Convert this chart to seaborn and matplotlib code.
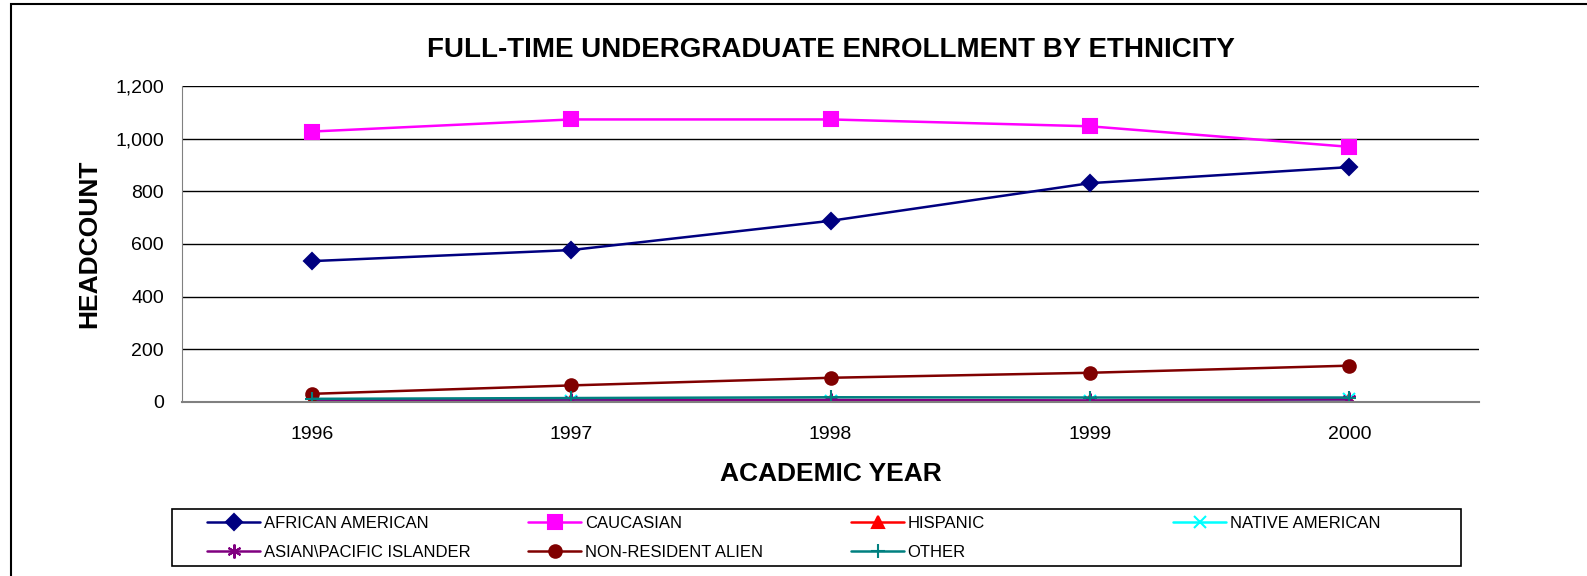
import matplotlib
matplotlib.use("Agg")
import matplotlib.pyplot as plt
import seaborn as sns
import pandas as pd
from matplotlib.patches import Rectangle

years = ["1996", "1997", "1998", "1999", "2000"]
african_american = [535, 577, 688, 831, 892]
caucasian = [1027, 1073, 1073, 1047, 969]
hispanic = [2, 3, 3, 2, 8]
native_american = [4, 5, 5, 4, 10]
asian_pacific = [6, 9, 8, 6, 10]
non_resident = [31, 63, 92, 111, 138]
other = [12, 15, 18, 17, 17]

series = {
    "AFRICAN AMERICAN": african_american,
    "CAUCASIAN": caucasian,
    "HISPANIC": hispanic,
    "NATIVE AMERICAN": native_american,
    "ASIAN\\PACIFIC ISLANDER": asian_pacific,
    "NON-RESIDENT ALIEN": non_resident,
    "OTHER": other,
}
colors = ["#000080", "#FF00FF", "#FF0000", "#00FFFF", "#800080", "#800000", "#008080"]
markers = ["D", "s", "^", "x", (6, 2, 0), "o", "+"]
msizes = [8, 10, 8, 9, 10, 9, 10]

rows = []
for name, vals in series.items():
    for i, v in enumerate(vals):
        rows.append({"year": i, "group": name, "count": v})
df = pd.DataFrame(rows)

sns.set_style("white")
plt.rcParams["font.family"] = ["Liberation Sans", "DejaVu Sans"]
plt.rcParams["text.color"] = "black"
plt.rcParams["axes.labelcolor"] = "black"
plt.rcParams["xtick.color"] = "black"
plt.rcParams["ytick.color"] = "black"

W, H = 1587, 576
fig = plt.figure(figsize=(W / 100, H / 100), dpi=100)
ax = fig.add_axes([182 / W, 1 - 402 / H, (1479 - 182) / W, (402 - 86) / H])

handles = []
for (name, vals), c, m, ms in zip(series.items(), colors, markers, msizes):
    sub = df[df["group"] == name]
    sns.lineplot(data=sub, x="year", y="count", ax=ax, color=c, marker=m,
                 markersize=ms, markeredgecolor=c, markeredgewidth=1.5,
                 linewidth=1.8, label=name, legend=False)
    handles.append(ax.lines[-1])

ax.set_xlim(-0.5, 4.5)
ax.set_ylim(0, 1200)
ax.set_yticks(range(0, 1201, 200))
ax.set_yticklabels([f"{v:,}" for v in range(0, 1201, 200)], fontsize=14)
ax.set_xticks(range(5))
ax.set_xticklabels(years, fontsize=14)
ax.set_xticks([i - 0.5 for i in range(6)], minor=True)
ax.tick_params(axis="x", which="major", length=0, pad=17)
ax.tick_params(axis="x", which="minor", length=6, color="#404040", direction="out")
ax.tick_params(axis="y", length=6, color="#404040", direction="out", pad=7)
ax.yaxis.grid(True, color="black", linewidth=1)
ax.set_axisbelow(True)
for s in ["top", "right"]:
    ax.spines[s].set_visible(False)
ax.spines["left"].set_color("#808080")
ax.spines["bottom"].set_color("#808080")
ax.spines["bottom"].set_linewidth(1.5)

ax.set_title("FULL-TIME UNDERGRADUATE ENROLLMENT BY ETHNICITY", fontsize=20,
             fontweight="bold", pad=21, color="black")
ax.set_xlabel("ACADEMIC YEAR", fontsize=19, fontweight="bold", labelpad=14)
ax.set_ylabel("HEADCOUNT", fontsize=19, fontweight="bold", labelpad=10)

# legend: 4 columns, row-major, inside a box
names = list(series.keys())
col_x = [207, 528, 851, 1173]
for ci, x in enumerate(col_x):
    idx = [i for i in (ci, ci + 4) if i < len(names)]
    leg = fig.legend([handles[i] for i in idx], [names[i] for i in idx],
                     loc="upper left", bbox_to_anchor=(x / W, 1 - 516 / H),
                     frameon=False, fontsize=12, handlelength=3.2,
                     handletextpad=0.2, borderpad=0, borderaxespad=0,
                     labelspacing=0.85)
fig.patches.append(Rectangle((172 / W, 1 - 566 / H), (1461 - 172) / W, 57 / H,
                             transform=fig.transFigure, fill=False,
                             edgecolor="black", linewidth=1.2))

fig.patches.append(Rectangle((11 / W, -0.1), 1.2, 1.1 - 4 / H,
                             transform=fig.transFigure, fill=False,
                             edgecolor="black", linewidth=1.5))

fig.savefig("out.png", dpi=100)
